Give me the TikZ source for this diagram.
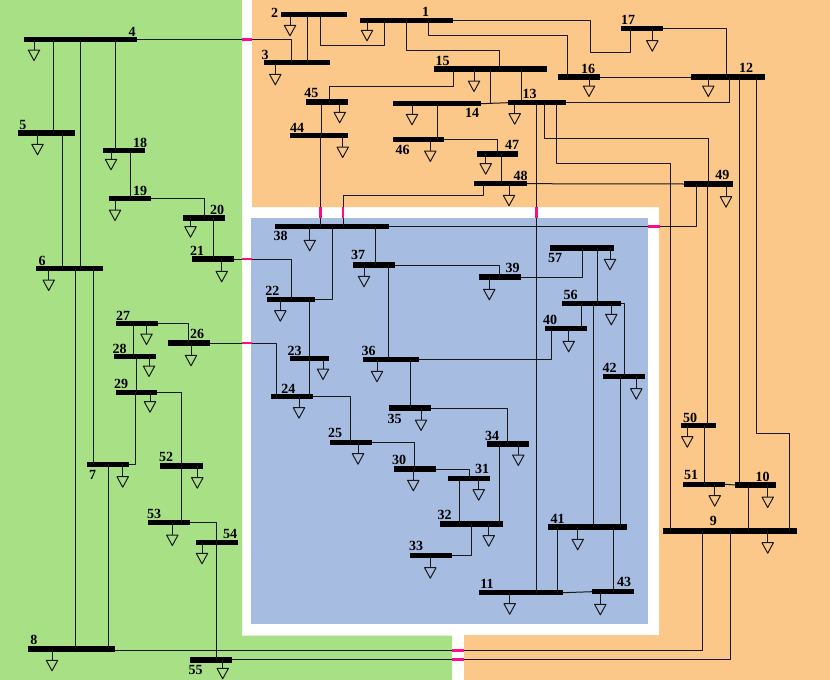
\documentclass[tikz,border=0pt]{standalone}
\usepackage{fontspec}
\setmainfont{Liberation Serif}
\usetikzlibrary{shapes.geometric}
\definecolor{areagreen}{RGB}{168,225,133}
\definecolor{areaorange}{RGB}{251,200,138}
\definecolor{areablue}{RGB}{167,188,225}
\definecolor{tiepink}{RGB}{255,10,140}
\tikzset{
	bus/.style={draw=none,fill=black,rectangle,minimum height=5.5pt,inner sep=0pt,outer sep=0pt},
	num/.style={inner sep=0pt,font=\fontsize{14}{14}\selectfont\bfseries},
	branch/.style={draw=black!90,line width=1pt},
	loadsym/.style={draw=black!90,line width=1pt,isosceles triangle,isosceles triangle stretches,shape border rotate=-90,minimum width=11.5pt,minimum height=10.5pt,inner sep=0pt,outer sep=0pt,anchor=lower side},
	tie/.style={draw=tiepink,line width=2.8pt}
}
\begin{document}
\begin{tikzpicture}[x=1pt,y=-1pt,line join=round]
	\useasboundingbox (0,0) rectangle (830,680);
	% areas
	\fill[white] (0,0) rectangle (830,680);
	\fill[areagreen] (0,0)--(242,0)--(242,635.5)--(452,635.5)--(452,680)--(0,680)--cycle;
	\fill[areaorange] (252,0)--(830,0)--(830,680)--(464,680)--(464,635)--(659,635)--(659,207)--(252,207)--cycle;
	\fill[areablue] (251,218) rectangle (648,624);
	% bus: number/left/right/y/label x/label y
	\foreach \n/\xa/\xb/\yb/\lx/\ly in {
		1/360/453/20.7/425.5/12, 2/281.3/347/14.7/274.5/13, 3/263.7/330/62.7/265/55,
		4/24/137/39.5/132/32, 5/18/75/133/23/125, 6/36.3/102.7/268.7/42/261,
		7/87.3/129/464.3/92.5/475, 8/28/114.7/649/34/640, 9/662.7/797/531/713.3/521,
		10/735/776.3/485/762.7/477, 11/479/562.7/592.7/487/583.5, 12/691/765/77/746/68,
		13/508/565.7/102.7/529.7/94, 14/393/481/103.7/472/113, 15/434/547/69/442.5/61,
		16/558/600/77/588/69, 17/621.3/663.3/28.7/628/19.7, 18/103/145/150.5/140/143,
		19/109/151/198.7/140/191, 20/183/225/218/217/210, 21/192.3/234.3/259/197/251,
		22/267/315/299.3/272.3/291, 23/290/328.7/358.7/294.7/350.5, 24/271.3/313.3/396.7/288.3/388.5,
		25/329.7/372/442.7/335/433, 26/168/209.7/343/197/334, 27/116.3/158/323.7/123/316,
		28/114.3/156.3/356.7/119.5/348.5, 29/115.7/157.3/392.3/121/384, 30/393.7/436/469/399/460,
		31/448.3/490.3/478.7/482/469, 32/439.7/502.7/524/444.7/514.5, 33/409.7/451.7/555.7/416/546,
		34/486.7/528.7/444/492/436, 35/389/431.3/408/394.7/419, 36/363/418.7/359.3/368.5/350.5,
		37/353/395/265/358/255, 38/275.3/388.5/226.7/280.5/236, 39/479/520.7/277/512.7/267.5,
		40/545/587/328.7/550/320, 41/548.3/627.3/527/557.7/519, 42/603.3/645/376.3/609.7/368,
		43/592/634/591.7/624/582, 44/290/348/135.3/297/128, 45/306/348/102/311.3/93,
		46/393/444/139.7/402.7/150, 47/476.7/518.3/154/512/145, 48/474/527/183.7/520.5/175.5,
		49/684/733/184/722.3/174.5, 50/681/716/425.3/690/417.5, 51/683/725/484.3/691/475,
		52/160.3/202.7/466/166/457, 53/148.3/190.3/522.7/154/513.5, 54/195.7/237.7/542.3/230/534,
		55/190/232/659.8/195.5/670, 56/562/621.3/303.7/570.5/295, 57/550/614/248/555/258}
	{
		\node[bus,minimum width={(\xb-\xa)*1pt}] (b\n) at ({(\xa+\xb)/2},\yb) {};
		\node[num] (n\n) at (\lx,\ly) {\n};
	}
	\coordinate (c8) at ([yshift=-1.3pt]b8.east);
	% straight branches: from/to/x
	\foreach \fb/\tb/\xl in {4/5/53.3, 4/6/80.7, 4/18/115.7, 5/6/62.3, 18/19/130, 20/21/213.3, 6/8/75.7, 6/7/93, 7/8/108,
		27/28/133, 28/29/136.3, 52/53/181.7, 54/55/216.7, 2/3/307, 45/44/321, 44/38/320.3, 15/13/521, 14/46/437,
		47/48/501.7, 13/11/536.3, 49/50/707.3, 50/51/704.3, 12/10/739.7, 10/9/748.3, 38/37/375, 37/36/388,
		22/23/309.3, 23/24/309.3, 36/35/410.3, 57/56/597.3, 56/40/581.7, 56/41/593.3, 42/41/620, 31/32/459.7,
		34/32/499, 41/11/557.7, 41/43/613}
		\draw[branch] (\xl,0 |- b\fb) -- (\xl,0 |- b\tb);
	% branches with bends
	\draw[branch] (b4.east) -| (291.3,0 |- b3);
	\draw[branch] (b19.east) -| (204,0 |- b20);
	\draw[branch] (b21.east) -| (291.3,0 |- b22);
	\draw[branch] (b26.east) -| (276.3,0 |- b24);
	\draw[branch] (b27.east) -| (188.3,0 |- b26);
	\draw[branch] (135.3,0 |- b29) |- (b7.east);
	\draw[branch] (b29.east) -| (181.7,0 |- b52);
	\draw[branch] (b53.east) -| (216.7,0 |- b54);
	\draw[branch] (c8) -| (702.7,0 |- b9);
	\draw[branch] (b55.east) -| (730.3,0 |- b9);
	\draw[branch] (320.7,0 |- b2) -- (320.7,45) -| (384.3,0 |- b1);
	\draw[branch] (406,0 |- b1) -- (406,50) -| (499.7,0 |- b15);
	\draw[branch] (428.3,0 |- b1) -- (428.3,35.7) -| (567.3,0 |- b16);
	\draw[branch] (b1.east) -| (590.7,52) -| (630.3,0 |- b17);
	\draw[branch] (b17.east) -| (726.7,0 |- b12);
	\draw[branch] (453.7,0 |- b15) -- (453.7,86.7) -| (329.3,0 |- b45);
	\draw[branch] (490.3,0 |- b15) |- (b14.east);
	\draw[branch] (b14.east) -- (b13.west);
	\draw[branch] (544.7,0 |- b13) -- (544.7,138.3) -| (708.7,0 |- b49);
	\draw[branch] (556.3,0 |- b13) -- (556.3,163.3) -| (670.5,0 |- b9);
	\draw[branch] (b13.east) -| (729.7,0 |- b12);
	\draw[branch] (b16.east) -- (b12.west);
	\draw[branch] (756.3,0 |- b12) -- (756.3,433.3) -| (789.7,0 |- b9);
	\draw[branch] (b46.east) -| (497.7,0 |- b47);
	\draw[branch] (483,0 |- b48) -- (483,195.7) -| (343,0 |- b38);
	\draw[branch] (b48.east) -- (b49.west);
	\draw[branch] (696.3,0 |- b49) |- (b38.east);
	\draw[branch] (332,0 |- b38) |- (b22.east);
	\draw[branch] (b37.east) -| (499.7,0 |- b39);
	\draw[branch] (b39.east) -| (582,0 |- b57);
	\draw[branch] (b36.east) -| (551.7,0 |- b40);
	\draw[branch] (b35.east) -| (507.7,0 |- b34);
	\draw[branch] (b24.east) -| (350.7,0 |- b25);
	\draw[branch] (b25.east) -| (414.7,0 |- b30);
	\draw[branch] (b30.east) -| (469.7,0 |- b31);
	\draw[branch] (471.3,0 |- b32) |- (b33.east);
	\draw[branch] (b11.east) -- (b43.west);
	\draw[branch] (b51.east) -- (b10.west);
	\draw[branch] (b56.east) -| (624.3,0 |- b42);
	% loads: bus/x/top of triangle
	\foreach \n/\xl/\yt in {1/367/30.3, 2/290/25.3, 3/275.3/74.3, 4/34/50, 5/37.5/144.3, 6/48.7/280, 7/122.7/476.7,
		8/52/660.3, 9/767.7/542.7, 10/767.7/497, 11/509.7/603.7, 12/708.3/86, 13/514.7/113.7, 14/412/114.3, 15/474/81,
		16/589/86, 17/652.3/40.7, 18/111/159.3, 19/115/210, 20/190.5/226.7, 21/221.7/271.3, 22/280.3/310.7, 23/323/369,
		24/299/407.7, 25/358/453.7, 26/191/355.3, 27/146.5/334, 28/149/366, 29/150/401.7, 30/413.3/480.3, 31/478.7/489.7,
		32/488.7/535.7, 33/430.3/567.7, 34/518.3/455, 35/421/420, 36/377/371.3, 37/364/276.3, 38/309.7/240.3, 39/489.3/289.3,
		40/568.7/341.3, 41/577.7/539.3, 42/636.3/388.7, 43/600.3/604.3, 44/342.7/147, 45/339.7/112.3, 46/430.3/151,
		47/485.7/163.7, 48/509/195.3, 49/726/196.7, 50/687.3/436.7, 51/714.7/495.7, 52/197.3/477.7, 53/172.3/535,
		54/202/553.3, 55/222.7/668.3, 56/611.3/314.3, 57/610/259.3}
	{
		\node[loadsym] (l\n) at (\xl,\yt) {};
		\draw[branch] (\xl,0 |- b\n) -- (l\n.lower side);
	}
	% tie lines between the areas
	\draw[tie] (242,0 |- b4) -- (252,0 |- b4);
	\draw[tie] (242,0 |- b21) -- (252,0 |- b21);
	\draw[tie] (242,0 |- b26) -- (252,0 |- b26);
	\draw[tie] (648,0 |- b38) -- (660,0 |- b38);
	\draw[tie] (452,0 |- c8) -- (464,0 |- c8);
	\draw[tie] (452,0 |- b55) -- (464,0 |- b55);
	\foreach \xl in {320.3,343,536.3}
		\draw[tie] (\xl,207) -- (\xl,218);
\end{tikzpicture}
\end{document}
